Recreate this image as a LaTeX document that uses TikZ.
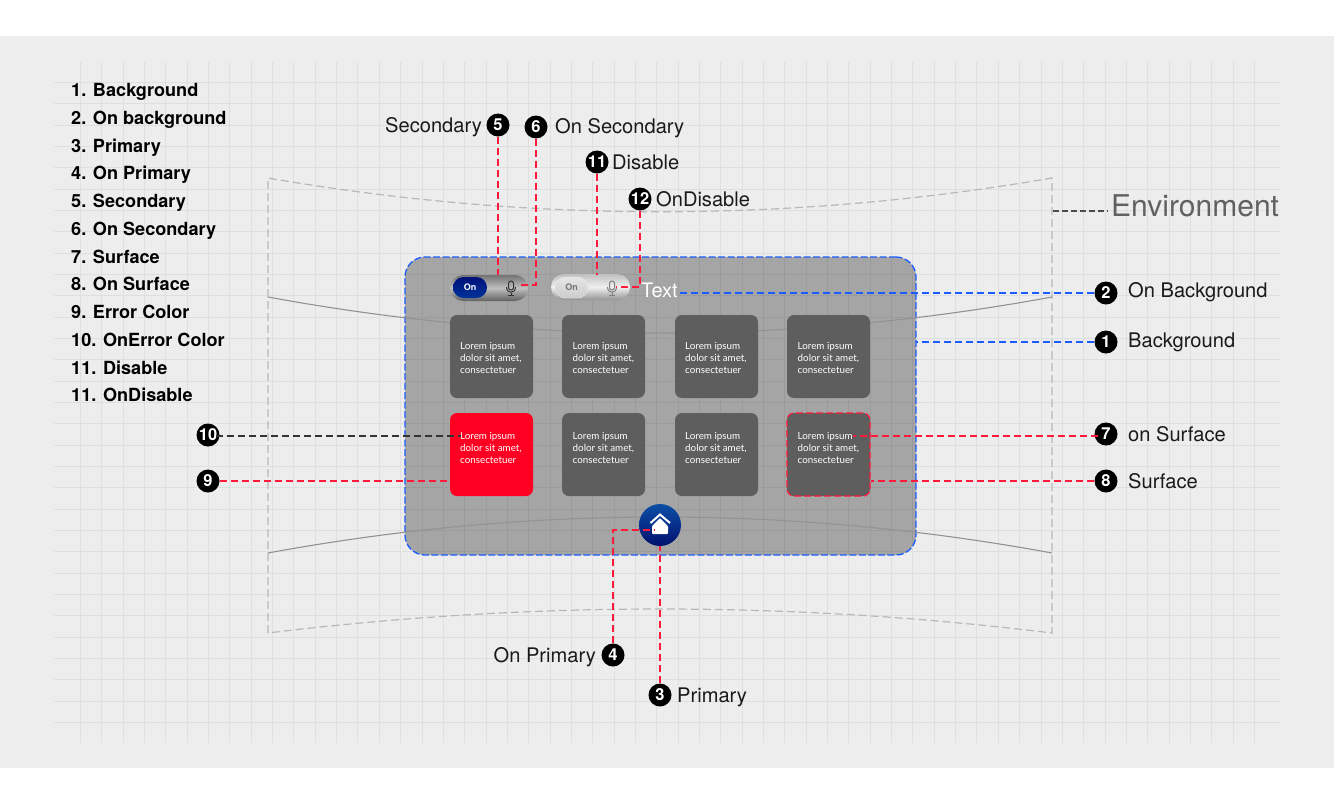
\documentclass[tikz,border=0pt]{standalone}
\usepackage{fontspec}
\setmainfont{TeX Gyre Heros}
\newfontfamily\cardfont{Lato}
\definecolor{pagebg}{HTML}{EDEDED}
\definecolor{gridc}{HTML}{DFDFDF}
\definecolor{cardc}{HTML}{5E5E5E}
\definecolor{errc}{HTML}{FF0022}
\definecolor{redc}{HTML}{FF1A3C}
\definecolor{bluec}{HTML}{1A5CFF}
\definecolor{envc}{HTML}{B8B8B8}
\definecolor{curvec}{HTML}{939393}
\definecolor{labelc}{HTML}{1A1A1A}
\definecolor{navytop}{HTML}{00107A}
\definecolor{navybot}{HTML}{00339A}
\definecolor{hometop}{HTML}{0D4FA6}
\definecolor{homebot}{HTML}{00106E}
\tikzset{
  badge/.style={circle,fill=black,text=white,minimum size=23pt,inner sep=0pt,font=\bfseries\fontsize{16.5}{16.5}\selectfont},
  lab/.style={anchor=base west,inner sep=0pt,text=labelc,font=\fontsize{20.1}{24}\selectfont},
  labr/.style={lab,anchor=base east},
  listitem/.style={anchor=base west,inner sep=0pt,text=black,font=\bfseries\fontsize{18.1}{20}\selectfont},
  card/.style={rectangle,rounded corners=7pt,fill=cardc,minimum width=83pt,minimum height=83pt,inner sep=0pt},
  cardtext/.style={anchor=north west,inner sep=0pt,text=white,align=left,font=\cardfont\fontsize{9.8}{12}\selectfont},
  gridline/.style={gridc,line width=1pt},
  envdash/.style={envc,line width=1.2pt,dash pattern=on 8pt off 4pt},
  envsolid/.style={curvec,line width=1.1pt},
  redline/.style={redc,line width=1.1pt,dash pattern=on 7pt off 4pt},
  blueline/.style={bluec,line width=1.1pt,dash pattern=on 7pt off 4pt},
  darkline/.style={black!80,line width=1.1pt,dash pattern=on 7pt off 4pt},
  micicon/.pic={
    \draw[pic actions,line width=1pt,rounded corners=2.4pt] (-2.5,-7) rectangle (2.5,2);
    \draw[pic actions,line width=1pt] (-4.5,-1) .. controls (-4.5,6) and (4.5,6) .. (4.5,-1);
    \draw[pic actions,line width=1pt] (0,4.5) -- (0,7);
    \draw[pic actions,line width=1pt] (-3,7) -- (3,7);
  }
}
\begin{document}
\begin{tikzpicture}[x=1pt,y=-1pt]
\useasboundingbox (0,0) rectangle (1334,796);
\fill[white] (0,0) rectangle (1334,796);
\fill[pagebg] (0,36) rectangle (1334,768);
% grid
\foreach \i in {0,...,55}{\pgfmathsetmacro{\gx}{round(80+\i*21.345)+0.5}\draw[gridline] (\gx,62) -- (\gx,743);}
\foreach \i in {0,...,30}{\pgfmathsetmacro{\gy}{round(82+\i*21.33)+0.5}\draw[gridline] (54,\gy) -- (1280,\gy);}
% environment outline
\draw[envdash] (268,633) -- (268,178) .. controls (529,223) and (791,223) .. (1052,178) -- (1052,633) .. controls (791,601) and (529,601) .. (268,633);
% panel
\node[rectangle,rounded corners=20pt,minimum width=511pt,minimum height=298pt,inner sep=0pt,fill=black,fill opacity=.30] (panel) at (660.5,406) {};
\node[rectangle,rounded corners=20pt,minimum width=511pt,minimum height=298pt,inner sep=0pt,draw=bluec,line width=1.3pt,dash pattern=on 7pt off 2.5pt] (panelborder) at (660.5,406) {};
% environment curves
\draw[envsolid] (268,297) .. controls (529,345) and (791,345) .. (1052,297);
\draw[envsolid] (268,553) .. controls (529,505) and (791,505) .. (1052,553);
% cards
\foreach \n/\cx/\cy/\tx/\ty in {a/491.5/356.5/460/341.7,b/603.5/356.5/572.5/341.7,c/716.5/356.5/685/341.7,d/828.5/356.5/797.5/341.7,f/603.5/454.5/572.5/431.7,g/716.5/454.5/685/431.7}{
  \node[card] (card\n) at (\cx,\cy) {};
  \node[cardtext] (text\n) at (\tx,\ty) {Lorem ipsum\\dolor sit amet,\\consectetuer};
}
\node[card,fill=errc] (carderr) at (491.5,454.5) {};
\node[cardtext] (texterr) at (460,431.7) {Lorem ipsum\\dolor sit amet,\\consectetuer};
\node[card,draw=redc,line width=1.2pt,dash pattern=on 7pt off 3pt] (cardsurf) at (828.5,454.5) {};
\node[cardtext] (textsurf) at (797.5,431.7) {Lorem ipsum\\dolor sit amet,\\consectetuer};
% toggles
\node[rectangle,rounded corners=13pt,minimum width=78pt,minimum height=26pt,inner sep=0pt,top color=black!55,bottom color=black!62,middle color=black!25] (tog1) at (489,288) {};
\node[rectangle,rounded corners=10.5pt,minimum width=34pt,minimum height=21pt,inner sep=0pt,top color=navytop,bottom color=navybot,text=white,font=\bfseries\fontsize{9}{9}\selectfont] (knob1) at (470,287.5) {On};
\pic[draw=black!80] at (511,288) {micicon};
\node[rectangle,rounded corners=13pt,minimum width=79pt,minimum height=26pt,inner sep=0pt,top color=black!25,bottom color=black!42,middle color=black!6] (tog2) at (590.5,287) {};
\node[rectangle,rounded corners=10.5pt,minimum width=33pt,minimum height=21pt,inner sep=0pt,top color=black!10,bottom color=black!20,draw=black!8,text=black!55,font=\bfseries\fontsize{9}{9}\selectfont] (knob2) at (571.5,287.5) {On};
\pic[draw=black!50] at (612,288) {micicon};
% on-background text
\node[anchor=base west,inner sep=0pt,text=white,font=\fontsize{20}{24}\selectfont] (textlab) at (641,297) {Text};
% home button
\node[circle,minimum size=42pt,inner sep=0pt,top color=hometop,bottom color=homebot] (home) at (660,525) {};
\draw[white,line width=2pt] (650.5,523) -- (660,514.5) -- (670,523);
\fill[white,rounded corners=1pt] (660,518) -- (668,526) -- (668,534) -- (652,534) -- (652,526) -- cycle;
% badges
\node[badge] (b1) at (1106,342) {1};
\node[badge] (b2) at (1106,293) {2};
\node[badge] (b3) at (660,695) {3};
\node[badge] (b4) at (613,655) {4};
\node[badge] (b5) at (498,125) {5};
\node[badge] (b6) at (536,127) {6};
\node[badge] (b7) at (1106,434) {7};
\node[badge] (b8) at (1106,481) {8};
\node[badge] (b9) at (208,481) {9};
\node[badge] (b10) at (208,435) {10};
\node[badge] (b11) at (597,162) {11};
\node[badge] (b12) at (640,199) {12};
% labels
\node[lab] (l1) at (1128,347) {Background};
\node[lab] (l2) at (1128,297) {On Background};
\node[lab] (l3) at (677,702) {Primary};
\node[labr] (l4) at (596,662) {On Primary};
\node[labr] (l5) at (482,132) {Secondary};
\node[lab] (l6) at (555,133) {On Secondary};
\node[lab] (l7) at (1128,441) {on Surface};
\node[lab] (l8) at (1128,488) {Surface};
\node[lab] (l11) at (612,169) {Disable};
\node[lab] (l12) at (656,206) {OnDisable};
\node[anchor=base west,inner sep=0pt,text=black!62,font=\fontsize{30}{34}\selectfont] (envlab) at (1111,216) {Environment};
% connector end points
\coordinate (e5) at (498,275);
\coordinate (e6a) at (536,285);
\coordinate (e6b) at (518,285);
\coordinate (e11) at (597,275);
\coordinate (e12a) at (640,287);
\coordinate (e12b) at (616,287);
\coordinate (e2) at (677,293);
\coordinate (e7) at (853,436);
\coordinate (e10) at (461,436);
\coordinate (e4a) at (613,530);
\coordinate (e4b) at (655,530);
\coordinate (e3) at (660,546);
\coordinate (envs) at (1053,211);
\coordinate (enve) at (1108,211);
% connectors
\draw[redline] (b5.south) -- (e5);
\draw[redline] (b6.south) -- (e6a) -- (e6b);
\draw[redline] (b11.south) -- (e11);
\draw[redline] (b12.south) -- (e12a) -- (e12b);
\draw[blueline] (b2.west) -- (e2);
\draw[blueline] (b1.west) -- (b1 -| panel.east);
\draw[redline] (b7.south west |- e7) -- (e7);
\draw[redline] (b8.west) -- (b8 -| cardsurf.east);
\draw[redline] (b9.east) -- (b9 -| carderr.west);
\draw[darkline] (b10.south east |- e10) -- (e10);
\draw[redline] (b4.north) -- (e4a) -- (e4b);
\draw[redline] (b3.north) -- (e3);
\draw[black!70,line width=1.2pt,dash pattern=on 6pt off 3pt] (envs) -- (enve);
% list
\node[listitem] (li1) at (71,96) {1. Background};
\node[listitem] (li2) at (71,124) {2. On background};
\node[listitem] (li3) at (71,152) {3. Primary};
\node[listitem] (li4) at (71,179) {4. On Primary};
\node[listitem] (li5) at (71,207) {5. Secondary};
\node[listitem] (li6) at (71,235) {6. On Secondary};
\node[listitem] (li7) at (71,263) {7. Surface};
\node[listitem] (li8) at (71,290) {8. On Surface};
\node[listitem] (li9) at (71,318) {9. Error Color};
\node[listitem] (li10) at (71,346) {10. OnError Color};
\node[listitem] (li11) at (71,374) {11. Disable};
\node[listitem] (li12) at (71,401) {11. OnDisable};
\end{tikzpicture}
\end{document}
